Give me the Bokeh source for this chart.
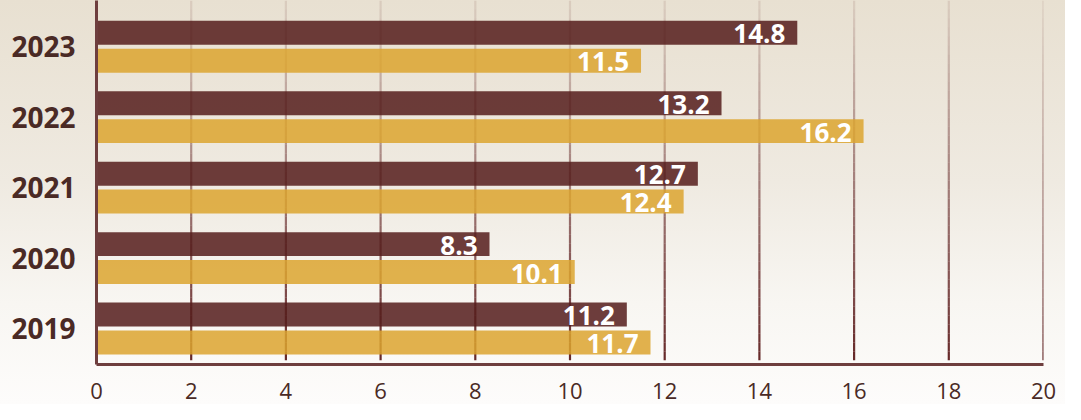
import numpy as np
from bokeh.plotting import figure
from bokeh.models import ColumnDataSource, FixedTicker, Range1d
from bokeh.embed import file_html
from bokeh.resources import INLINE
from bokeh.core.properties import value

# ---- data ----
years = ["2019", "2020", "2021", "2022", "2023"]
series_dark = [11.2, 8.3, 12.7, 13.2, 14.8]
series_gold = [11.7, 10.1, 12.4, 16.2, 11.5]
x_ticks = [0, 2, 4, 6, 8, 10, 12, 14, 16, 18, 20]

# ---- styles ----
DARK = "#551c1b"
GOLD = "#dca52f"
GRID = "#5a1818"
AXIS = "#6e3e3e"
TXT = "#4a2a25"
FONT = "Open Sans"

Y_LO, Y_HI = -0.511, 4.656
OFF = 0.198
BAR_H = 0.34

p = figure(width=1065, height=404,
           x_range=Range1d(x_ticks[0], x_ticks[-1]),
           y_range=Range1d(Y_LO, Y_HI),
           output_backend="svg", toolbar_location=None,
           min_border_left=96, min_border_right=22,
           min_border_top=0, min_border_bottom=40)
p.styles = {"background": "linear-gradient(180deg, #e8e0d1 0%, #efeae1 45%, #f8f6f2 75%, #fdfcfb 100%)"}
p.background_fill_alpha = 0
p.border_fill_alpha = 0
p.outline_line_color = None
p.grid.visible = False

# gradient vertical gridlines (drawn under the bars)
N = 40
gx0, gy0, gy1, ga = [], [], [], []
y_start = Y_LO + 0.06
for g in x_ticks[1:]:
    for k in range(N):
        a = y_start + (Y_HI - y_start) * k / N
        b = y_start + (Y_HI - y_start) * (k + 1) / N
        gx0.append(g)
        gy0.append(a)
        gy1.append(b)
        ga.append(0.92 - 0.82 * (k / (N - 1)))
gsrc = ColumnDataSource(dict(x=gx0, y0=gy0, y1=gy1, alpha=ga))
p.segment(x0="x", y0="y0", x1="x", y1="y1", source=gsrc,
          line_color=GRID, line_alpha="alpha", line_width=2.2)

idx = np.arange(len(years))
src = ColumnDataSource(dict(
    yd=idx + OFF, yg=idx - OFF,
    dark=series_dark, gold=series_gold,
    dl=[f"{v}" for v in series_dark], gl=[f"{v}" for v in series_gold]))

p.hbar(y="yd", left=0, right="dark", height=BAR_H, source=src,
       fill_color=DARK, fill_alpha=0.85, line_color=None)
p.hbar(y="yg", left=0, right="gold", height=BAR_H, source=src,
       fill_color=GOLD, fill_alpha=0.85, line_color=None)

for ycol, xcol, tcol in (("yd", "dark", "dl"), ("yg", "gold", "gl")):
    p.text(x=xcol, y=ycol, text=tcol, source=src,
           x_offset=-12, y_offset=1,
           text_align="right", text_baseline="middle",
           text_color="white", text_font=value(FONT),
           text_font_style="bold", text_font_size="26px")

# axes
p.xaxis.ticker = FixedTicker(ticks=x_ticks)
p.xaxis.major_tick_line_color = None
p.xaxis.minor_tick_line_color = None
p.xaxis.axis_line_color = AXIS
p.xaxis.axis_line_width = 3
p.xaxis.major_label_text_font = FONT
p.xaxis.major_label_text_font_size = "22px"
p.xaxis.major_label_text_color = TXT
p.xaxis.major_label_standoff = 12

p.yaxis.ticker = FixedTicker(ticks=list(idx))
p.yaxis.major_label_overrides = {int(i): y for i, y in zip(idx, years)}
p.yaxis.major_tick_line_color = None
p.yaxis.minor_tick_line_color = None
p.yaxis.axis_line_color = AXIS
p.yaxis.axis_line_width = 3
p.yaxis.major_label_text_font = FONT
p.yaxis.major_label_text_font_style = "bold"
p.yaxis.major_label_text_font_size = "28px"
p.yaxis.major_label_text_color = TXT
p.yaxis.major_label_standoff = 15

open("out.html", "w").write(file_html(p, INLINE))
